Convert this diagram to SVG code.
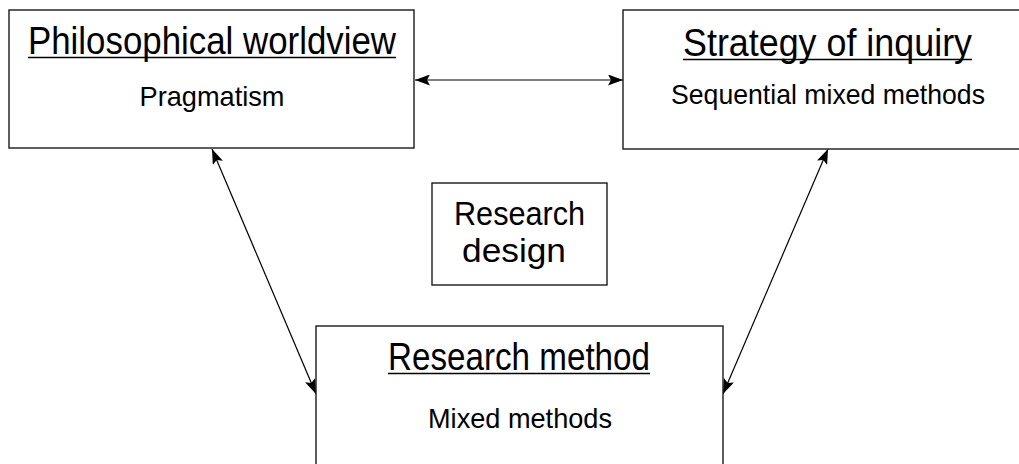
<svg xmlns="http://www.w3.org/2000/svg" width="1019" height="464" viewBox="0 0 1019 464">
  <style>
    .box { fill: #ffffff; stroke: #1a1a1a; stroke-width: 1.4; }
    .title { font-family: "Liberation Sans", Arial, sans-serif; font-size: 38px; fill: #000; text-anchor: middle; }
    .sub { font-family: "Liberation Sans", Arial, sans-serif; font-size: 28px; fill: #000; text-anchor: middle; }
    .centre { font-family: "Liberation Sans", Arial, sans-serif; font-size: 33px; fill: #000; text-anchor: middle; }
    .uline { stroke: #000; stroke-width: 1.6; }
    .conn { stroke: #000; stroke-width: 1.2; fill: none; marker-start: url(#head); marker-end: url(#head); }
  </style>
  <defs>
    <marker id="head" viewBox="0 0 15 11" refX="15" refY="5.5" markerWidth="15" markerHeight="11" markerUnits="userSpaceOnUse" orient="auto-start-reverse">
      <path d="M0,0 L15,5.5 L0,11 L3,5.5 Z" fill="#000"/>
    </marker>
  </defs>
  <rect x="0" y="0" width="1019" height="464" fill="#ffffff"/>

  <g id="connectors">
    <line class="conn" x1="415" y1="80" x2="623" y2="80"/>
    <line class="conn" x1="212" y1="149" x2="316" y2="394"/>
    <line class="conn" x1="828" y1="149" x2="723" y2="394"/>
  </g>

  <g id="philosophical-worldview">
    <rect class="box" x="9" y="10" width="405" height="138"/>
    <text class="title" x="212" y="54" textLength="368" lengthAdjust="spacingAndGlyphs">Philosophical worldview</text>
    <line class="uline" x1="28" y1="57.5" x2="396" y2="57.5"/>
    <text class="sub" x="212" y="106" textLength="145" lengthAdjust="spacingAndGlyphs">Pragmatism</text>
  </g>

  <g id="strategy-of-inquiry">
    <rect class="box" x="623" y="10" width="409" height="139"/>
    <text class="title" x="827.5" y="56" textLength="289" lengthAdjust="spacingAndGlyphs">Strategy of inquiry</text>
    <line class="uline" x1="683" y1="59.5" x2="972" y2="59.5"/>
    <text class="sub" x="828" y="104" textLength="314" lengthAdjust="spacingAndGlyphs">Sequential mixed methods</text>
  </g>

  <g id="research-design">
    <rect class="box" x="432" y="183" width="175" height="102"/>
    <text class="centre" x="519.5" y="225" textLength="131" lengthAdjust="spacingAndGlyphs">Research</text>
    <text class="centre" x="514" y="262" textLength="104" lengthAdjust="spacingAndGlyphs">design</text>
  </g>

  <g id="research-method">
    <rect class="box" x="316" y="326" width="407" height="150"/>
    <text class="title" x="519" y="370" textLength="262" lengthAdjust="spacingAndGlyphs">Research method</text>
    <line class="uline" x1="388" y1="373.5" x2="650" y2="373.5"/>
    <text class="sub" x="520" y="428" textLength="184" lengthAdjust="spacingAndGlyphs">Mixed methods</text>
  </g>
</svg>
